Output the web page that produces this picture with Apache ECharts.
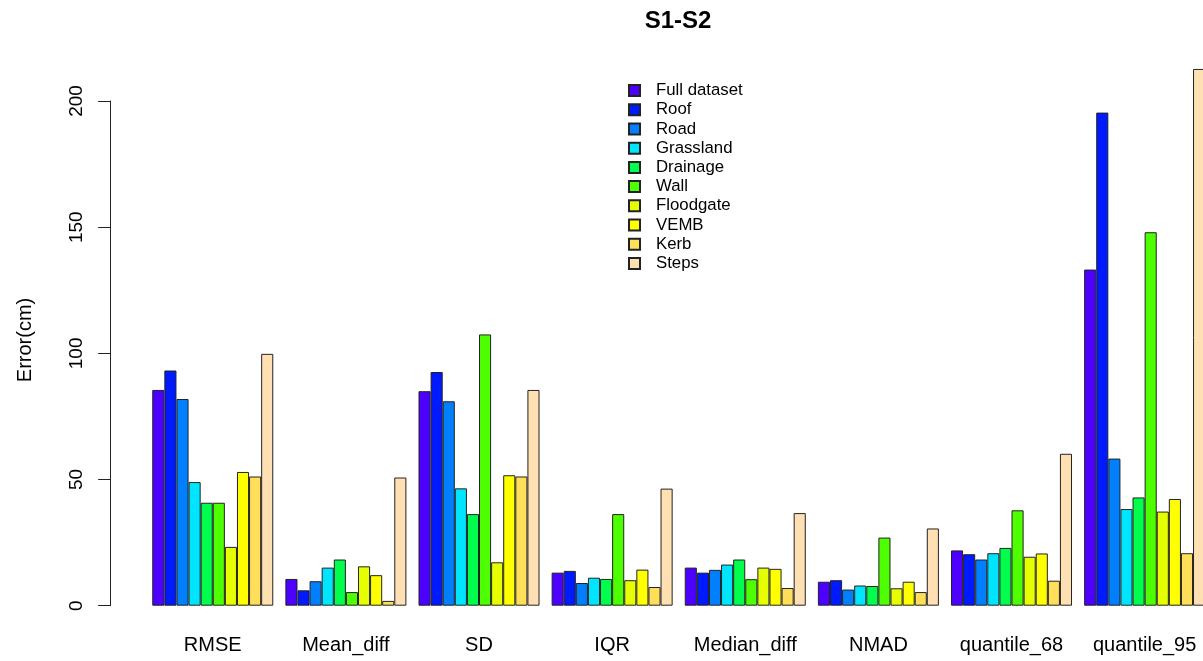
<!DOCTYPE html>
<html><head><meta charset="utf-8">
<script src="https://cdn.jsdelivr.net/npm/echarts@6/dist/echarts.min.js"></script>
<style>html,body{margin:0;padding:0;background:#fff;overflow:hidden}#c{width:1203px;height:661px}</style>
</head><body><div id="c"></div>
<script>
// ---- data ----
const categories = ['RMSE','Mean_diff','SD','IQR','Median_diff','NMAD','quantile_68','quantile_95'];
const seriesNames = ['Full dataset','Roof','Road','Grassland','Drainage','Wall','Floodgate','VEMB','Kerb','Steps'];
const fullDataset = [85.5, 10.6, 85.0, 13.1, 15.1, 9.5, 21.9, 133.2];
const roof        = [93.2, 6.1, 92.6, 13.8, 13.1, 10.1, 20.4, 195.4];
const road        = [81.9, 9.7, 81.0, 9.0, 14.2, 6.4, 18.3, 58.3];
const grassland   = [49.0, 15.1, 46.5, 11.1, 16.3, 8.0, 20.8, 38.3];
const drainage    = [40.8, 18.3, 36.3, 10.6, 18.3, 7.8, 22.9, 42.9];
const wall        = [40.8, 5.4, 107.5, 36.3, 10.5, 27.0, 37.8, 148.0];
const floodgate   = [23.3, 15.6, 17.2, 10.1, 15.1, 6.9, 19.4, 37.3];
const vemb        = [53.0, 12.1, 51.7, 14.3, 14.6, 9.5, 20.7, 42.3];
const kerb        = [51.2, 1.9, 51.2, 7.4, 7.0, 5.4, 9.9, 20.8];
const steps       = [99.8, 50.8, 85.5, 46.4, 36.7, 30.6, 60.2, 212.7];
const yMin = 0, yMax = 200, yInterval = 50;
const colors = ['#4C00FF','#001AFF','#0080FF','#00E5FF','#00FF4D','#4DFF00','#E6FF00','#FFFF00','#FFDE59','#FFE0B3'];

const values = [fullDataset, roof, road, grassland, drainage, wall, floodgate, vemb, kerb, steps];
const FONT = '"Liberation Sans", Arial, sans-serif';

const chart = echarts.init(document.getElementById('c'), null, {renderer: 'canvas'});
chart.setOption({
  animation: false,
  backgroundColor: '#fff',
  textStyle: {fontFamily: FONT},
  grid: {left: 146.2, top: 101, width: 1065, height: 504.7, containLabel: false, outerBoundsMode: 'none'},
  legend: {
    orient: 'vertical', left: 623, top: 76,
    itemWidth: 11, itemHeight: 11, itemGap: 0, icon: 'rect',
    textStyle: {fontSize: 16.8, color: '#000', fontFamily: FONT, lineHeight: 19.2, padding: [0, 0, 0, 11]},
    data: seriesNames
  },
  xAxis: {
    type: 'category', data: categories,
    axisLine: {show: false}, axisTick: {show: false},
    axisLabel: {fontSize: 20, color: '#000', margin: 30, fontFamily: FONT, interval: 0}
  },
  yAxis: {
    type: 'value', min: yMin, max: yMax, interval: yInterval, offset: 36,
    axisLine: {show: true, lineStyle: {color: '#222', width: 1}},
    axisTick: {show: true, length: 12, lineStyle: {color: '#222'}},
    splitLine: {show: false},
    axisLabel: {rotate: 90, fontSize: 19, color: '#000', margin: 24, fontFamily: FONT}
  },
  graphic: [
    {type: 'text', x: 678, y: 21, style: {text: 'S1-S2', font: 'bold 24px ' + FONT, fill: '#000', align: 'center', verticalAlign: 'middle'}},
    {type: 'text', x: 25, y: 340, rotation: Math.PI / 2, style: {text: 'Error(cm)', font: '20px ' + FONT, fill: '#000', align: 'center', verticalAlign: 'middle'}}
  ],
  series: seriesNames.map((name, i) => ({
    name: name, type: 'bar', data: values[i], clip: false,
    barGap: '0%', barCategoryGap: (100 / 11) + '%',
    itemStyle: {color: colors[i], borderColor: '#222', borderWidth: 1}
  }))
});
</script></body></html>
